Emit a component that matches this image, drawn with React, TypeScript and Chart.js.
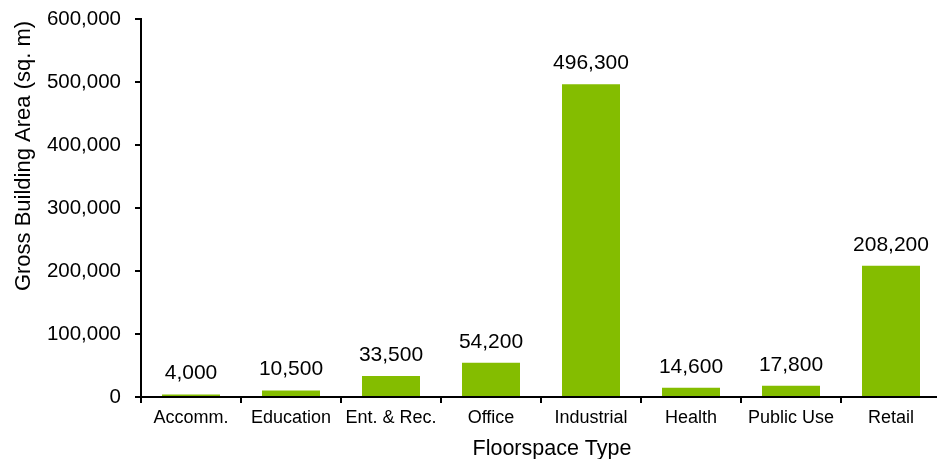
import React, { useEffect, useRef } from "react";
import { Chart, registerables } from "chart.js";

Chart.register(...registerables);

const categories = ["Accomm.", "Education", "Ent. & Rec.", "Office", "Industrial", "Health", "Public Use", "Retail"];
const values = [4000, 10500, 33500, 54200, 496300, 14600, 17800, 208200];
const yMax = 600000;
const yStep = 100000;
const xTitle = "Floorspace Type";
const yTitle = "Gross Building Area (sq. m)";

const FONT = "'Liberation Sans', Arial, sans-serif";

const valueLabels = {
  id: "valueLabels",
  afterDatasetsDraw(chart: any) {
    const ctx = chart.ctx;
    const meta = chart.getDatasetMeta(0);
    ctx.save();
    ctx.font = `21px ${FONT}`;
    ctx.fillStyle = "#000";
    ctx.textAlign = "center";
    ctx.textBaseline = "alphabetic";
    meta.data.forEach((bar: any, i: number) => {
      ctx.fillText(values[i].toLocaleString("en-US"), bar.x, bar.y - 15);
    });
    ctx.restore();
  },
};

const axisTitles = {
  id: "axisTitles",
  afterDraw(chart: any) {
    const ctx = chart.ctx;
    ctx.save();
    ctx.fillStyle = "#000";
    ctx.textAlign = "center";
    ctx.textBaseline = "alphabetic";
    ctx.font = `21.5px ${FONT}`;
    ctx.fillText(xTitle, 552, 455);
    ctx.translate(30, 156);
    ctx.rotate(-Math.PI / 2);
    ctx.font = `22px ${FONT}`;
    ctx.fillText(yTitle, 0, 0);
    ctx.restore();
  },
};

export default function App() {
  const ref = useRef<HTMLCanvasElement>(null);
  useEffect(() => {
    const chart = new Chart(ref.current!, {
      type: "bar",
      data: {
        labels: categories,
        datasets: [
          {
            data: values,
            backgroundColor: "#84BD00",
            borderWidth: 0,
            barPercentage: 0.58,
            categoryPercentage: 1,
          },
        ],
      },
      options: {
        animation: false,
        responsive: false,
        maintainAspectRatio: false,
        layout: { padding: { top: 19, right: 0, left: 0, bottom: 0 } },
        plugins: { legend: { display: false }, tooltip: { enabled: false } },
        scales: {
          x: {
            grid: { display: true, drawOnChartArea: false, color: "#000", lineWidth: 2, tickLength: 6, offset: true },
            border: { display: true, color: "#000", width: 2 },
            ticks: { color: "#000", font: { family: FONT, size: 18 }, padding: 4, maxRotation: 0, autoSkip: false },
            afterFit: (s: any) => { s.height = 62; s.paddingLeft = 0; s.paddingRight = 0; },
          },
          y: {
            min: 0,
            max: yMax,
            grid: { display: true, drawOnChartArea: false, color: "#000", lineWidth: 2, tickLength: 6 },
            border: { display: true, color: "#000", width: 2 },
            ticks: {
              stepSize: yStep,
              color: "#000",
              font: { family: FONT, size: 20.5 },
              padding: 14,
              callback: (v: any) => Number(v).toLocaleString("en-US"),
            },
            afterFit: (s: any) => { s.width = 141; s.paddingTop = 0; s.paddingBottom = 0; },
          },
        },
      },
      plugins: [valueLabels, axisTitles],
    });
    return () => chart.destroy();
  }, []);
  return (
    <div style={{ position: "fixed", left: 0, top: 0, width: 937, height: 459, overflow: "hidden", background: "#fff" }}>
      <canvas ref={ref} width={941} height={459} style={{ width: 941, height: 459, display: "block" }} />
    </div>
  );
}
